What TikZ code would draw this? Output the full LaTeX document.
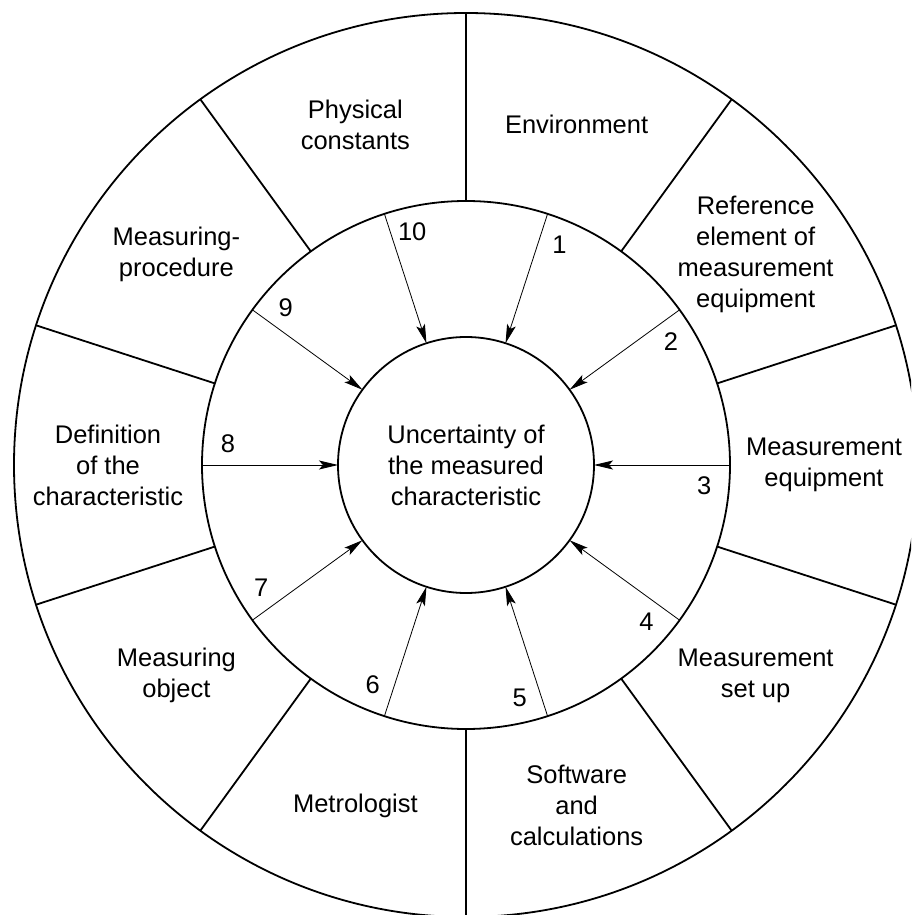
\documentclass[tikz,border=0pt]{standalone}
\usepackage{fontspec}
\setmainfont{Liberation Sans}
\usetikzlibrary{arrows.meta}
\begin{document}
\begin{tikzpicture}[x=1pt,y=1pt,
  ringline/.style={line width=1.8pt},
  ringc/.style={circle, draw, ringline, inner sep=0pt, outer sep=0pt},
  arr/.style={line width=0.8pt, -{Stealth[length=19pt,width=9pt,inset=4pt]}},
  lbl/.style={align=center, font=\fontsize{25.5}{31}\selectfont, inner sep=0pt},
  num/.style={font=\fontsize{25.5}{31}\selectfont, inner sep=0pt}]
\useasboundingbox (-466,-450) rectangle (445,465);
\clip (-466,-450) rectangle (445,465);
\node[ringc, minimum size=904pt] (outer) at (0,0) {};
\node[ringc, minimum size=528pt] (ring) at (0,0) {};
\node[ringc, minimum size=256pt, lbl] (core) at (0,0) {Uncertainty of\\the measured\\characteristic};
\foreach \a in {90,54,18,342,306,270,234,198,162,126}
  \draw[ringline] (ring.\a) -- (outer.\a);
\foreach \a/\n in {72/1,36/2,0/3,324/4,288/5,252/6,216/7,180/8,144/9,108/10}{
  \draw[arr] (ring.\a) -- (core.\a);
  \node[num] (n\n) at ({\a-5}:239) {\n};
}
\node[lbl] (t1) at (72:358) {Environment};
\node[lbl] (t2) at (36:358) {Reference\\element of\\measurement\\equipment};
\node[lbl] (t3) at (0:358) {Measurement\\equipment};
\node[lbl] (t4) at (324:358) {Measurement\\set up};
\node[lbl] (t5) at (288:358) {Software\\and\\calculations};
\node[lbl] (t6) at (252:358) {Metrologist};
\node[lbl] (t7) at (216:358) {Measuring\\object};
\node[lbl] (t8) at (180:358) {Definition\\of the\\characteristic};
\node[lbl] (t9) at (144:358) {Measuring-\\procedure};
\node[lbl] (t10) at (108:358) {Physical\\constants};
\end{tikzpicture}
\end{document}
